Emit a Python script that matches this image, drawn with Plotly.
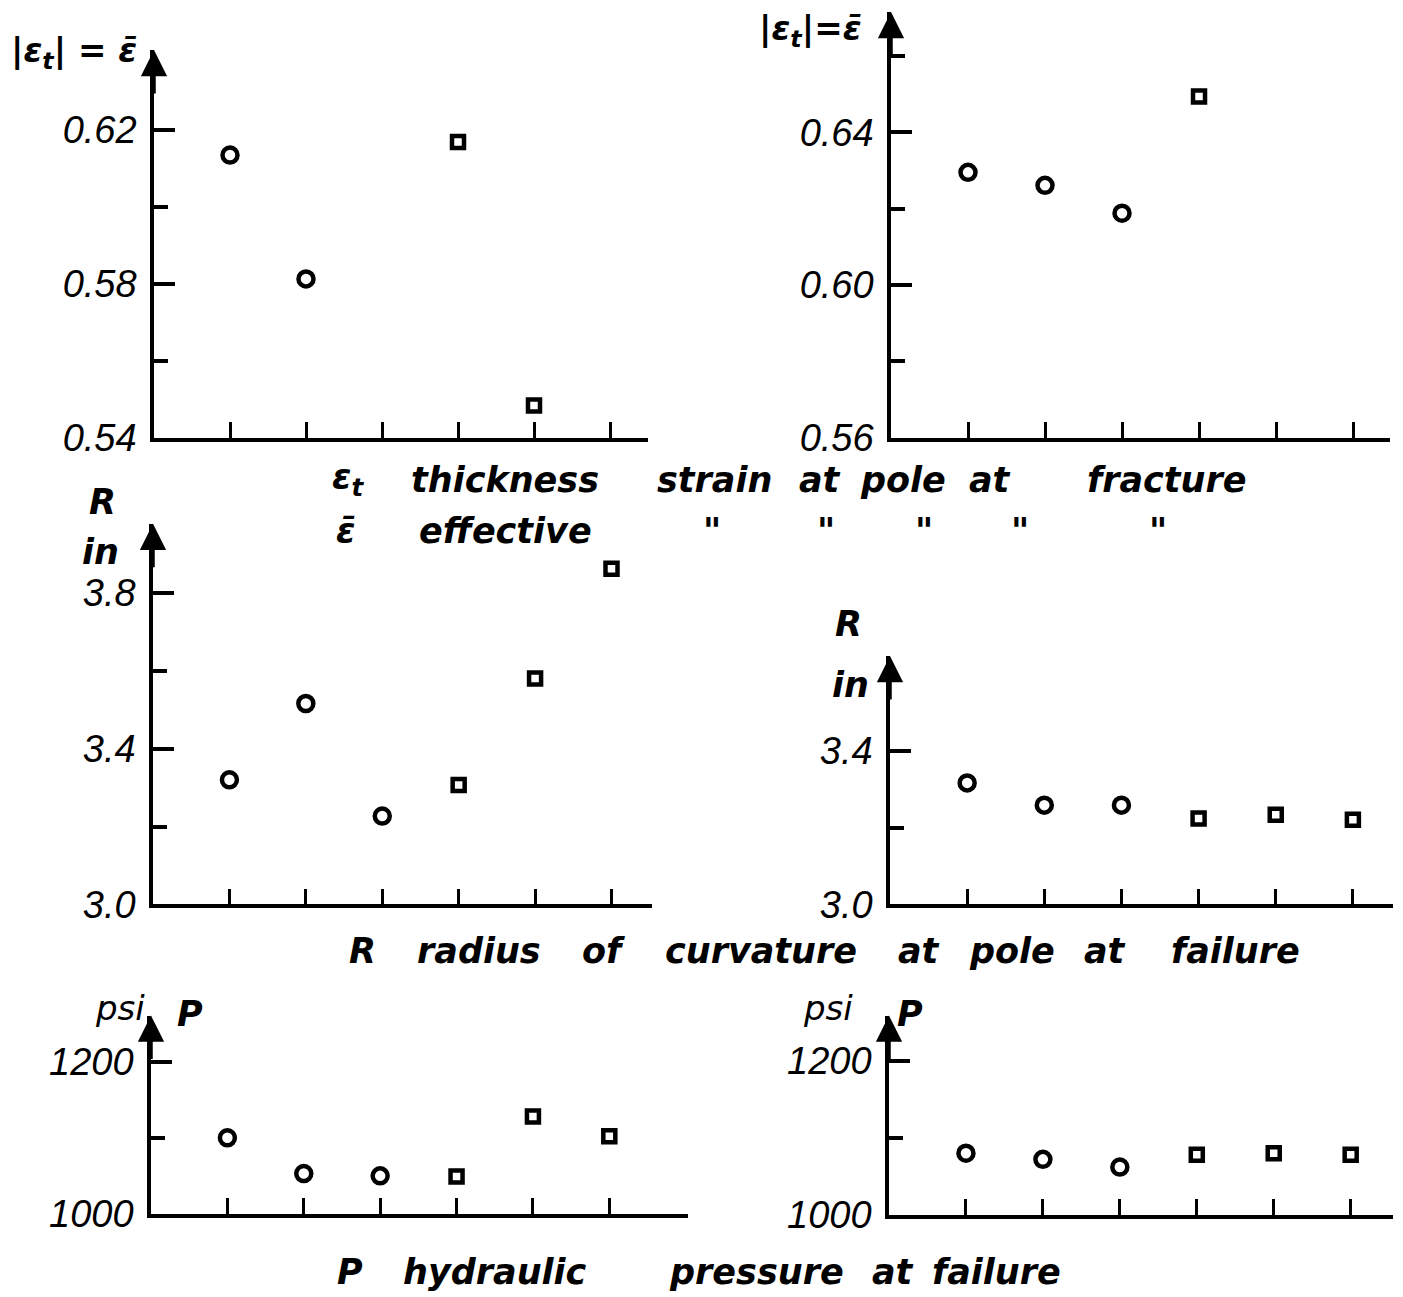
import plotly.graph_objects as go

W, H = 1403, 1297
HY = 1274.0  # effective vertical scale used to place panels in paper space

# ---------------- data ----------------
slots = [1, 2, 3, 4, 5, 6]

# top-left: |eps_t| = eps_bar
p1_circ_x = [1, 2]
p1_circ_y = [0.6135, 0.5813]
p1_sq_x = [4, 5]
p1_sq_y = [0.6169, 0.5484]
p1_ticks = [0.54, 0.58, 0.62]
p1_ticktext = ["0.54", "0.58", "0.62"]
p1_minor = [0.56, 0.60]

# top-right
p2_circ_x = [1, 2, 3]
p2_circ_y = [0.6295, 0.6261, 0.6188]
p2_sq_x = [4]
p2_sq_y = [0.6494]
p2_ticks = [0.56, 0.60, 0.64]
p2_ticktext = ["0.56", "0.60", "0.64"]
p2_minor = [0.58, 0.62, 0.66]

# middle-left: R (in)
p3_circ_x = [1, 2, 3]
p3_circ_y = [3.320, 3.516, 3.227]
p3_sq_x = [4, 5, 6]
p3_sq_y = [3.307, 3.580, 3.862]
p3_ticks = [3.0, 3.4, 3.8]
p3_ticktext = ["3.0", "3.4", "3.8"]
p3_minor = [3.2, 3.6]

# middle-right
p4_circ_x = [1, 2, 3]
p4_circ_y = [3.317, 3.259, 3.259]
p4_sq_x = [4, 5, 6]
p4_sq_y = [3.224, 3.234, 3.221]
p4_ticks = [3.0, 3.4]
p4_ticktext = ["3.0", "3.4"]
p4_minor = [3.2]

# bottom-left: P (psi)
p5_circ_x = [1, 2, 3]
p5_circ_y = [1100, 1053, 1050]
p5_sq_x = [4, 5, 6]
p5_sq_y = [1049, 1128, 1102]
p5_ticks = [1000, 1200]
p5_ticktext = ["1000", "1200"]
p5_minor = [1100]

# bottom-right
p6_circ_x = [1, 2, 3]
p6_circ_y = [1080, 1072, 1062]
p6_sq_x = [4, 5, 6]
p6_sq_y = [1078, 1080, 1078]
p6_ticks = [1000, 1200]
p6_ticktext = ["1000", "1200"]
p6_minor = [1100]

# ---------------- layout geometry (pixels) ----------------
panels = [
    dict(px=(154, 648), py=(437, 50), xr=[0, 6.5], yr=[0.54, 0.6408],
         cx=p1_circ_x, cy=p1_circ_y, sx=p1_sq_x, sy=p1_sq_y,
         tv=p1_ticks, tt=p1_ticktext, mv=p1_minor),
    dict(px=(891, 1390), py=(437, 12), xr=[0, 6.48], yr=[0.56, 0.6715],
         cx=p2_circ_x, cy=p2_circ_y, sx=p2_sq_x, sy=p2_sq_y,
         tv=p2_ticks, tt=p2_ticktext, mv=p2_minor),
    dict(px=(153, 652), py=(903, 523), xr=[0, 6.53], yr=[3.0, 3.9775],
         cx=p3_circ_x, cy=p3_circ_y, sx=p3_sq_x, sy=p3_sq_y,
         tv=p3_ticks, tt=p3_ticktext, mv=p3_minor),
    dict(px=(890, 1393), py=(903, 655), xr=[0, 6.52], yr=[3.0, 3.648],
         cx=p4_circ_x, cy=p4_circ_y, sx=p4_sq_x, sy=p4_sq_y,
         tv=p4_ticks, tt=p4_ticktext, mv=p4_minor),
    dict(px=(151, 688), py=(1212, 1014), xr=[0, 7.03], yr=[1000, 1260.5],
         cx=p5_circ_x, cy=p5_circ_y, sx=p5_sq_x, sy=p5_sq_y,
         tv=p5_ticks, tt=p5_ticktext, mv=p5_minor),
    dict(px=(889, 1393), py=(1213, 1014), xr=[0, 6.55], yr=[1000, 1258.4],
         cx=p6_circ_x, cy=p6_circ_y, sx=p6_sq_x, sy=p6_sq_y,
         tv=p6_ticks, tt=p6_ticktext, mv=p6_minor),
]

TICKFONT = "Liberation Sans"
TEXTFONT = "DejaVu Sans"
fig = go.Figure()
annotations = []

for i, p in enumerate(panels, start=1):
    xa = "x" if i == 1 else f"x{i}"
    ya = "y" if i == 1 else f"y{i}"
    fig.add_trace(go.Scatter(
        x=p["cx"], y=p["cy"], mode="markers", xaxis=xa, yaxis=ya,
        marker=dict(symbol="circle-open", size=15, color="black",
                    line=dict(width=4.5, color="black")),
        showlegend=False, hoverinfo="skip"))
    fig.add_trace(go.Scatter(
        x=p["sx"], y=p["sy"], mode="markers", xaxis=xa, yaxis=ya,
        marker=dict(symbol="square-open", size=12, color="black",
                    line=dict(width=4.5, color="black")),
        showlegend=False, hoverinfo="skip"))

    xd = [p["px"][0] / W, p["px"][1] / W]
    yd = [1 - p["py"][0] / HY, 1 - p["py"][1] / HY]
    xkey = "xaxis" if i == 1 else f"xaxis{i}"
    ykey = "yaxis" if i == 1 else f"yaxis{i}"
    fig.update_layout(**{
        xkey: dict(domain=xd, range=p["xr"], anchor=ya,
                   showline=True, linewidth=3.5, linecolor="black",
                   showgrid=False, zeroline=False,
                   tickmode="array", tickvals=slots, showticklabels=False,
                   ticks="inside", ticklen=16, tickwidth=3, tickcolor="black"),
        ykey: dict(domain=yd, range=p["yr"], anchor=xa,
                   showline=True, linewidth=3.5, linecolor="black",
                   showgrid=False, zeroline=False,
                   tickmode="array", tickvals=p["tv"], ticktext=p["tt"],
                   ticks="inside", ticklen=21, tickwidth=4, tickcolor="black",
                   ticklabelstandoff=6,
                   tickfont=dict(family=TICKFONT, size=38, color="black", style="italic"),
                   minor=dict(tickmode="array", tickvals=p["mv"], ticks="inside",
                              ticklen=14, tickwidth=4, tickcolor="black",
                              showgrid=False)),
    })
    # arrow head on top of y axis
    annotations.append(dict(
        x=xd[0], y=yd[1], xref="paper", yref="paper", text="",
        showarrow=True, ax=0, ay=45, arrowhead=2, arrowsize=1.5,
        arrowwidth=3.5, arrowcolor="black"))


def label(txt, cx, cy, size=35, bold=True, family=TEXTFONT):
    annotations.append(dict(
        x=cx / W, y=1 - cy / HY, xref="paper", yref="paper", text=txt,
        showarrow=False, xanchor="center", yanchor="middle",
        font=dict(family=family, size=size, color="black", style="italic",
                  weight="bold" if bold else "normal")))


# y-axis titles
label("|ε<sub>t</sub>| = ε̄", 74, 52, 34)
label("|ε<sub>t</sub>|=ε̄", 810, 30, 34)
label("R", 103, 501)
label("in", 100, 551)
label("R", 848, 623)
label("in", 850, 684)
label("psi", 120, 1006, 34, False)
label("P", 190, 1012)
label("psi", 828, 1006, 34, False)
label("P", 910, 1012)

# caption line 1
for w, cx in [("ε<sub>t</sub>", 348), ("thickness", 505), ("strain", 714),
              ("at", 820), ("pole", 903), ("at", 990), ("fracture", 1167)]:
    label(w, cx, 479)
# caption line 2
for w, cx in [("ε̄", 345), ("effective", 505), ("\"", 712), ("\"", 826),
              ("\"", 924), ("\"", 1020), ("\"", 1158)]:
    label(w, cx, 530)
# caption line 3
for w, cx in [("R", 362), ("radius", 479), ("of", 603), ("curvature", 761),
              ("at", 919), ("pole", 1012), ("at", 1105), ("failure", 1235)]:
    label(w, cx, 950)
# caption line 4
for w, cx in [("P", 350), ("hydraulic", 495), ("pressure", 756),
              ("at", 893), ("failure", 996)]:
    label(w, cx, 1270)

fig.update_layout(
    width=W, height=H,
    margin=dict(l=0, r=0, t=0, b=0),
    paper_bgcolor="white", plot_bgcolor="white",
    annotations=annotations,
    showlegend=False,
)

fig.write_html("out.html", config={"displayModeBar": False})

# remove the default body margin so the figure sits at the window origin
with open("out.html", "r", encoding="utf-8") as f:
    html = f.read()
html = html.replace("<body>", '<body style="margin:0;overflow:hidden">', 1)
with open("out.html", "w", encoding="utf-8") as f:
    f.write(html)
